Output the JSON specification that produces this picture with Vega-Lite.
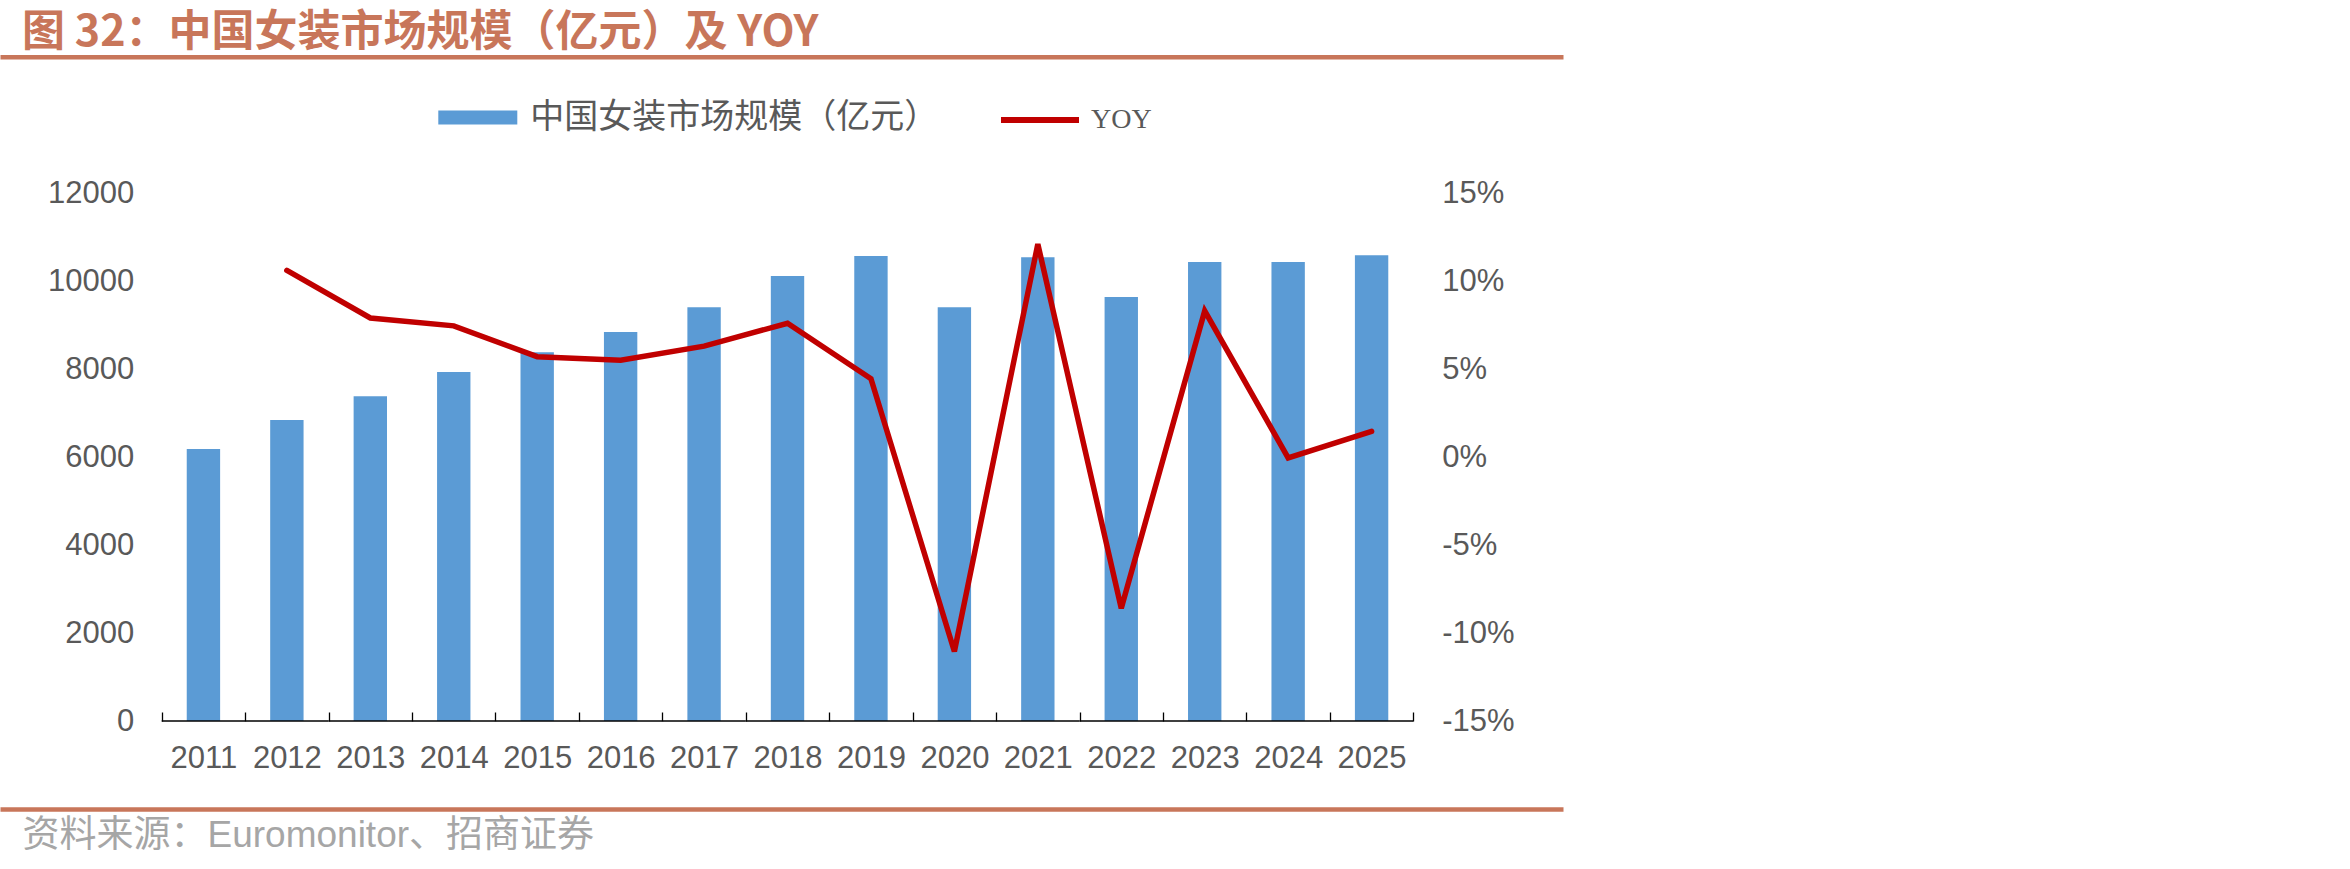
{
  "$schema": "https://vega.github.io/schema/vega-lite/v6.json",
  "width": 1563,
  "height": 528,
  "autosize": {"type": "none"},
  "padding": {"left": 0, "top": 193, "right": 787, "bottom": 148},
  "background": "#ffffff",
  "config": {"view": {"stroke": null}},
  "title": {
    "text": "图 32：中国女装市场规模（亿元）及 YOY",
    "anchor": "start",
    "frame": "group",
    "font": "Noto Sans CJK SC",
    "fontSize": 43,
    "fontWeight": "bold",
    "color": "#C8765A",
    "dx": 22,
    "offset": 2
  },
  "data": {
    "values": [
      {"year": "2011", "size": 6182, "yoy": null},
      {"year": "2012", "size": 6841, "yoy": 10.6},
      {"year": "2013", "size": 7379, "yoy": 7.9},
      {"year": "2014", "size": 7932, "yoy": 7.45},
      {"year": "2015", "size": 8380, "yoy": 5.7},
      {"year": "2016", "size": 8841, "yoy": 5.5},
      {"year": "2017", "size": 9402, "yoy": 6.3},
      {"year": "2018", "size": 10114, "yoy": 7.6},
      {"year": "2019", "size": 10568, "yoy": 4.45},
      {"year": "2020", "size": 9402, "yoy": -11.05},
      {"year": "2021", "size": 10539, "yoy": 12.1},
      {"year": "2022", "size": 9636, "yoy": -8.6},
      {"year": "2023", "size": 10432, "yoy": 8.3},
      {"year": "2024", "size": 10432, "yoy": -0.05},
      {"year": "2025", "size": 10584, "yoy": 1.46}
    ]
  },
  "layer": [
    {
      "mark": {"type": "bar", "width": {"band": 0.4}},
      "encoding": {
        "x": {
          "field": "year", "type": "ordinal",
          "scale": {
            "domain": ["padL", "2011", "2012", "2013", "2014", "2015", "2016", "2017", "2018", "2019", "2020", "2021", "2022", "2023", "2024", "2025", "padR"],
            "paddingInner": 0, "paddingOuter": 0.866, "align": 0.5416
          },
          "axis": {
            "orient": "bottom", "domain": false, "ticks": true, "tickBand": "extent",
            "values": ["2011", "2012", "2013", "2014", "2015", "2016", "2017", "2018", "2019", "2020", "2021", "2022", "2023", "2024", "2025"],
            "tickSize": -9, "tickColor": "#000000", "tickWidth": 1.3,
            "labelPadding": 31, "labelFont": "Liberation Sans", "labelFontSize": 31,
            "labelColor": "#595959", "labelAngle": 0, "title": null, "grid": false
          }
        },
        "y": {
          "field": "size", "type": "quantitative",
          "scale": {"domain": [0, 12000], "nice": false},
          "axis": {
            "orient": "left", "offset": -161.7, "domain": false, "ticks": false, "tickSize": 0,
            "grid": false, "values": [0, 2000, 4000, 6000, 8000, 10000, 12000],
            "labelPadding": 28, "labelFont": "Liberation Sans", "labelFontSize": 31,
            "labelColor": "#595959", "title": null, "format": "d"
          }
        },
        "color": {
          "datum": "中国女装市场规模（亿元）",
          "scale": {"range": ["#5B9BD5"]},
          "legend": {
            "orient": "none", "legendX": 438.3, "legendY": -115, "title": null,
            "symbolType": "M-1,-0.18H1V0.18H-1Z", "symbolSize": 6241, "symbolStrokeWidth": 0,
            "symbolOpacity": 1, "labelLimit": 800,
            "labelFont": "Noto Sans CJK SC", "labelFontSize": 34, "labelColor": "#595959",
            "labelOffset": 13, "padding": 0
          }
        }
      }
    },
    {
      "mark": {"type": "rule", "color": "#000000", "strokeWidth": 1.3},
      "encoding": {
        "x": {
          "field": "year", "type": "ordinal", "bandPosition": 0,
          "axis": {
            "orient": "bottom", "offset": 88, "domain": true, "domainColor": "#C8765A",
            "domainWidth": 4.5, "labels": false, "ticks": false, "grid": false,
            "title": "资料来源：Euromonitor、招商证券", "titleAnchor": "start", "titleAlign": "left",
            "titleX": 22, "titleY": 26, "titleBaseline": "middle",
            "titleFont": "Liberation Sans, Noto Sans CJK SC", "titleFontSize": 37,
            "titleFontWeight": "normal", "titleColor": "#A6A6A6"
          }
        },
        "x2": {"field": "year", "bandPosition": 1},
        "y": {"datum": 0, "scale": {"domain": [0, 12000], "nice": false}, "axis": null}
      }
    },
    {
      "mark": {"type": "line", "strokeWidth": 5.5, "strokeCap": "round", "strokeJoin": "miter"},
      "encoding": {
        "x": {
          "field": "year", "type": "ordinal",
          "axis": {
            "orient": "top", "offset": 136.3, "domain": true, "domainColor": "#C8765A",
            "domainWidth": 4.5, "labels": false, "ticks": false, "grid": false, "title": null
          }
        },
        "y": {
          "field": "yoy", "type": "quantitative",
          "scale": {"domain": [-15, 15], "nice": false},
          "axis": {
            "orient": "right", "offset": -149.7, "domain": false, "ticks": false, "tickSize": 0,
            "grid": false, "values": [-15, -10, -5, 0, 5, 10, 15],
            "labelExpr": "datum.value + '%'",
            "labelPadding": 28.4, "labelFont": "Liberation Sans", "labelFontSize": 31,
            "labelColor": "#595959", "title": null
          }
        },
        "stroke": {
          "datum": "YOY",
          "scale": {"range": ["#C00000"]},
          "legend": {
            "orient": "none", "legendX": 998, "legendY": -115, "title": null,
            "symbolType": "stroke", "symbolSize": 6084, "symbolStrokeWidth": 6,
            "labelFont": "Liberation Serif", "labelFontSize": 28, "labelColor": "#595959",
            "labelOffset": 9, "padding": 0
          }
        }
      }
    }
  ],
  "resolve": {
    "scale": {"y": "independent"},
    "axis": {"x": "independent", "y": "independent"}
  }
}
